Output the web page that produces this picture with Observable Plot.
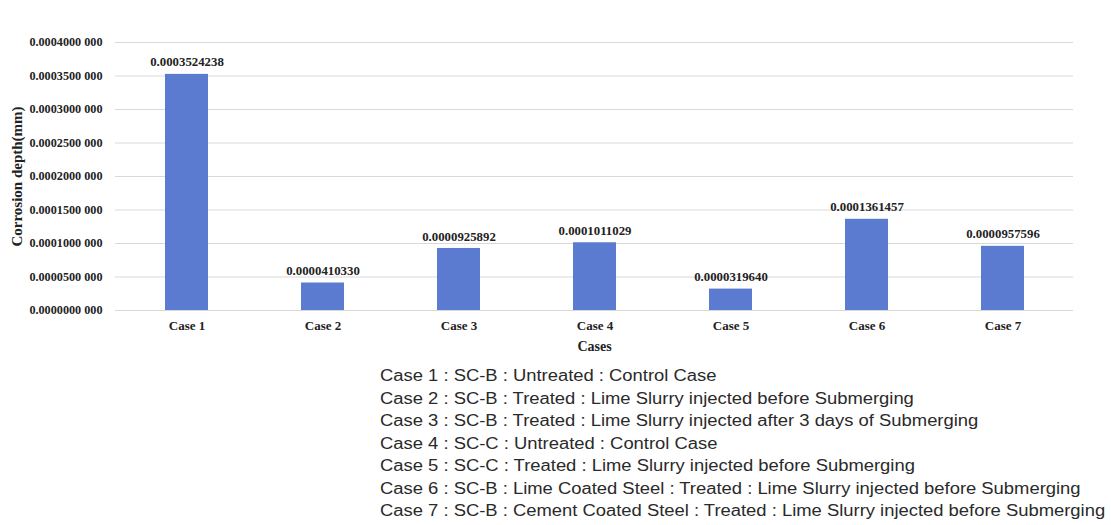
<!DOCTYPE html>
<html>
<head>
<meta charset="utf-8">
<script src="https://cdn.jsdelivr.net/npm/d3@7"></script>
<script src="https://cdn.jsdelivr.net/npm/@observablehq/plot@0.6"></script>
<style>
  html, body { margin: 0; padding: 0; background: #fff; overflow: hidden; }
  #chart { width: 1111px; }
  #notes {
    margin: 5px 0 0 380px;
    font-family: "Liberation Sans", Arial, sans-serif;
    font-size: 16px;
    line-height: 22.5px;
    color: #2a2a2a;
    white-space: nowrap;
    transform: scaleX(1.15);
    transform-origin: left top;
  }
</style>
</head>
<body>
<div id="chart"></div>
<div id="notes"></div>
<script>
// Corrosion depth per test case
const cases = ["Case 1", "Case 2", "Case 3", "Case 4", "Case 5", "Case 6", "Case 7"];
const depths = [0.0003524238, 0.0000410330, 0.0000925892, 0.0001011029, 0.0000319640, 0.0001361457, 0.0000957596];
const yTicks = [0, 0.00005, 0.0001, 0.00015, 0.0002, 0.00025, 0.0003, 0.00035, 0.0004];
const descriptions = [
  "Case 1 : SC-B : Untreated : Control Case",
  "Case 2 : SC-B : Treated : Lime Slurry injected before Submerging",
  "Case 3 : SC-B : Treated : Lime Slurry injected after 3 days of Submerging",
  "Case 4 : SC-C : Untreated : Control Case",
  "Case 5 : SC-C : Treated : Lime Slurry injected before Submerging",
  "Case 6 : SC-B : Lime Coated Steel : Treated : Lime Slurry injected before Submerging",
  "Case 7 : SC-B : Cement Coated Steel : Treated : Lime Slurry injected before Submerging"
];

const rows = cases.map((c, i) => ({ caseName: c, depth: depths[i] }));

const f10 = d3.format(".10f");
const tickFmt = v => { const s = f10(v); return s.slice(0, -3) + " " + s.slice(-3); };

const serif = "'Liberation Serif', 'Times New Roman', serif";

const chart = Plot.plot({
  width: 1111,
  height: 360,
  marginLeft: 115,
  marginRight: 38,
  marginTop: 42,
  marginBottom: 50,
  style: { fontFamily: serif, background: "#fff", color: "#222" },
  x: { domain: cases, paddingInner: 0.686, paddingOuter: 0.343, label: null },
  y: { domain: [0, 0.0004], label: null },
  marks: [
    Plot.gridY(yTicks, { stroke: "#d9d9d9", strokeOpacity: 1, strokeWidth: 1 }),
    Plot.barY(rows, { x: "caseName", y: "depth", fill: "#5b7bd1" }),
    Plot.text(rows, {
      x: "caseName", y: "depth", text: d => f10(d.depth),
      dy: -12, fontSize: 12.8, fontWeight: "bold", fill: "#222"
    }),
    Plot.axisY({
      ticks: yTicks, tickFormat: tickFmt, tickSize: 0, tickPadding: 13,
      fontSize: 12.2, fontWeight: "bold", label: null
    }),
    Plot.axisX({ tickSize: 0, tickPadding: 10, fontSize: 13, fontWeight: "bold", label: null }),
    Plot.text(["Cases"], {
      frameAnchor: "bottom", dy: 40, fontSize: 14, fontWeight: "bold", fill: "#222"
    }),
    Plot.text(["Corrosion depth(mm)"], {
      frameAnchor: "left", textAnchor: "middle", dx: -98, rotate: -90,
      fontSize: 15, fontWeight: "bold", fill: "#222"
    })
  ]
});
document.getElementById("chart").append(chart);

const notes = d3.select("#notes");
notes.selectAll("div").data(descriptions).join("div").text(d => d);
</script>
</body>
</html>
